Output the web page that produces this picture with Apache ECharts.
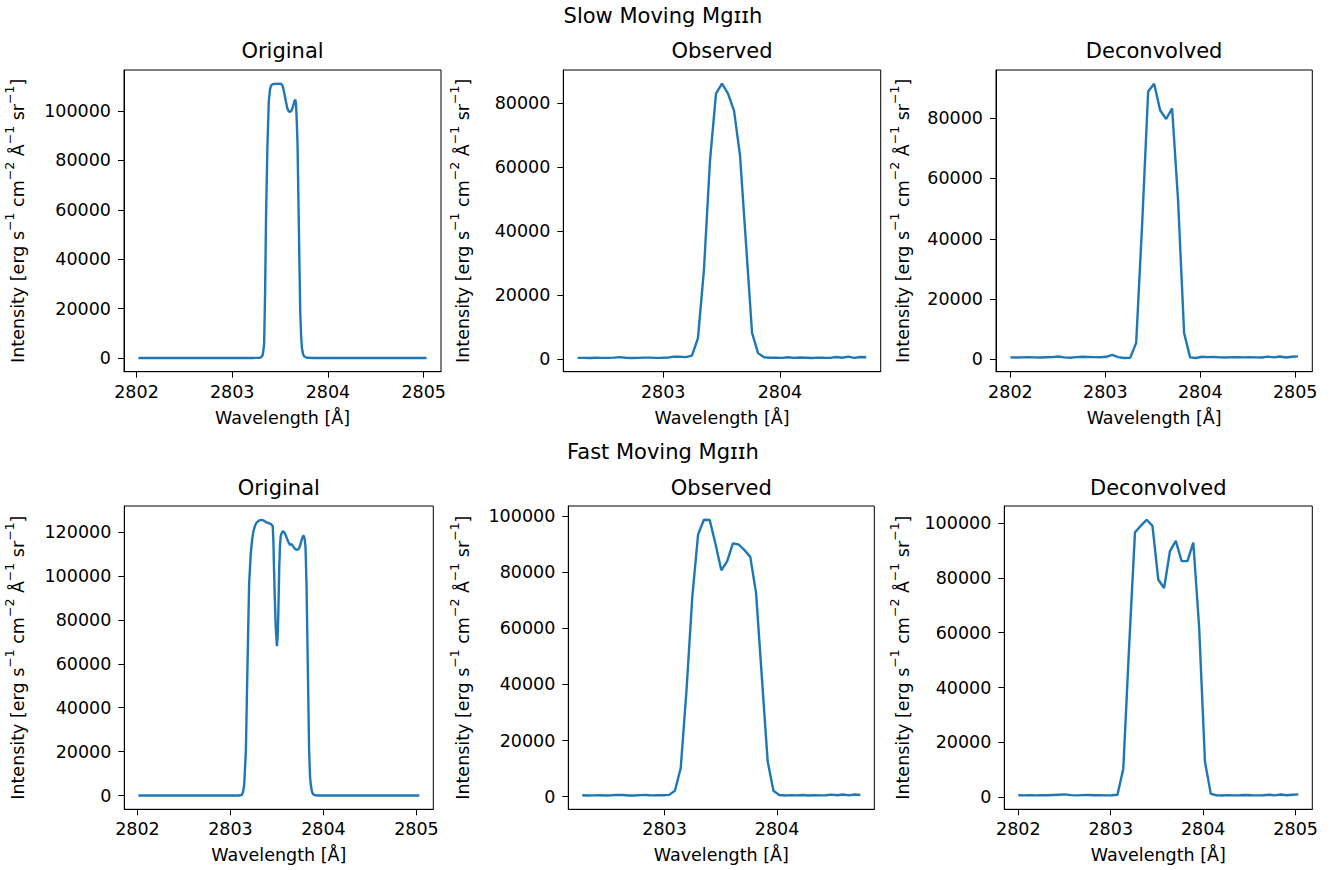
<!DOCTYPE html>
<html>
<head>
<meta charset="utf-8">
<script src="https://cdn.jsdelivr.net/npm/echarts@6/dist/echarts.min.js"></script>
<style>
html,body{margin:0;padding:0;background:#fff;}
#chart{width:1338px;height:870px;}
</style>
</head>
<body>
<div id="chart"></div>
<script>
// ---------------- DATA ----------------
const suptitles = ["Slow Moving Mg\u026a\u026ah", "Fast Moving Mg\u026a\u026ah"];
const panelTitles = ["Original", "Observed", "Deconvolved"];
const xLabel = "Wavelength [\u00c5]";
const yLabel = "{n|Intensity [erg s}{s|\u22121}{n| cm}{s|\u22122}{n| \u00c5}{s|\u22121}{n| sr}{s|\u22121}{n|]}";

// x tick labels
const xTicksFull = [2802, 2803, 2804, 2805];
const xTicksObs = [2803, 2804];
// y tick labels
const yTicks100k = [0, 20000, 40000, 60000, 80000, 100000];
const yTicks80k = [0, 20000, 40000, 60000, 80000];
const yTicks120k = [0, 20000, 40000, 60000, 80000, 100000, 120000];

// Original (fine) profiles: wavelength / intensity
const origSlowWl = [2802.02, 2803.20, 2803.29, 2803.31, 2803.319, 2803.333, 2803.343, 2803.354, 2803.368, 2803.382, 2803.395, 2803.41, 2803.43, 2803.50, 2803.518, 2803.53, 2803.545, 2803.56, 2803.575, 2803.59, 2803.605, 2803.62, 2803.633, 2803.648, 2803.658, 2803.666, 2803.674, 2803.682, 2803.696, 2803.71, 2803.72, 2803.728, 2803.74, 2803.752, 2803.78, 2803.85, 2805.03];
const origSlowI = [0, 0, 100, 600, 1350, 5400, 25700, 59500, 86500, 104000, 109000, 110600, 111000, 111100, 110800, 109800, 107000, 104000, 101200, 99900, 99700, 100300, 101600, 103800, 104700, 103000, 96000, 86500, 52700, 18900, 8500, 4050, 1500, 600, 100, 0, 0];

const origFastWl = [2802.01, 2803.08, 2803.11, 2803.123, 2803.135, 2803.148, 2803.166, 2803.183, 2803.201, 2803.219, 2803.233, 2803.247, 2803.265, 2803.283, 2803.31, 2803.337, 2803.36, 2803.39, 2803.433, 2803.445, 2803.455, 2803.462, 2803.468, 2803.477, 2803.487, 2803.5, 2803.507, 2803.514, 2803.525, 2803.532, 2803.54, 2803.555, 2803.568, 2803.583, 2803.597, 2803.61, 2803.621, 2803.64, 2803.658, 2803.675, 2803.697, 2803.718, 2803.735, 2803.746, 2803.76, 2803.771, 2803.781, 2803.789, 2803.797, 2803.807, 2803.818, 2803.832, 2803.846, 2803.856, 2803.864, 2803.876, 2803.889, 2803.91, 2803.95, 2805.03];
const origFastI = [0, 0, 100, 300, 1500, 4900, 20200, 58400, 96600, 110400, 116500, 120300, 123000, 124400, 125300, 125600, 125200, 124400, 123700, 123300, 122600, 116000, 104200, 90000, 76700, 68000, 72000, 81300, 104200, 113000, 118000, 120000, 120300, 119600, 118300, 116800, 115700, 114200, 114500, 113400, 112200, 111900, 112400, 113400, 115600, 117200, 118200, 118300, 117000, 113400, 96600, 58400, 20200, 8500, 4900, 1800, 600, 100, 0, 0];

// Observed (instrument) wavelength grid
const obsWlStart = 2802.268, obsWlStep = 0.0515, obsN = 49;
const obsSlowI = [400, 420, 380, 450, 400, 430, 500, 650, 450, 380, 430, 500, 480, 430, 450, 500, 800, 750, 650, 1100, 6600, 28000, 62000, 83000, 86100, 83000, 77700, 63600, 36000, 8200, 1900, 600, 450, 500, 420, 600, 400, 520, 450, 380, 500, 450, 420, 700, 450, 800, 400, 700, 600];
const obsFastI = [500, 450, 480, 500, 450, 520, 650, 600, 450, 420, 550, 600, 480, 500, 520, 650, 2100, 10200, 38000, 71300, 93400, 98600, 98500, 90000, 80600, 83800, 90200, 89800, 87800, 85400, 72500, 42500, 12600, 2100, 600, 450, 550, 480, 600, 450, 500, 480, 520, 750, 500, 800, 450, 800, 600];

// Deconvolved wavelength grid
const decWlStart = 2802.0, decWlStep = 0.0631, decN = 49;
const decSlowI = [700, 650, 700, 750, 700, 650, 750, 800, 1000, 700, 600, 800, 900, 850, 800, 750, 900, 1500, 800, 500, 550, 5500, 45000, 88800, 91400, 82600, 79700, 83200, 52500, 8800, 700, 500, 900, 800, 850, 700, 650, 800, 750, 700, 800, 700, 650, 950, 700, 1000, 650, 900, 1050];
const decFastI = [700, 650, 700, 650, 750, 700, 800, 900, 1000, 750, 650, 750, 800, 700, 750, 650, 700, 900, 10400, 55000, 96600, 99000, 101200, 99000, 79300, 76300, 89800, 93500, 86100, 86100, 92900, 62000, 12900, 1200, 700, 600, 750, 650, 700, 800, 700, 650, 700, 900, 650, 950, 700, 900, 1000];

// ---------------- BUILD ----------------
function grid(start, step, n) { const a = []; for (let i = 0; i < n; i++) a.push(+(start + step * i).toFixed(4)); return a; }
const obsWl = grid(obsWlStart, obsWlStep, obsN);
const decWl = grid(decWlStart, decWlStep, decN);
function pairs(xs, ys) { return xs.map((x, i) => [x, ys[i]]); }
function padRange(arr) { const mn = Math.min(...arr), mx = Math.max(...arr), d = mx - mn; return [mn - 0.05 * d, mx + 0.05 * d]; }

const FONT = "'DejaVu Sans', sans-serif";
const panels = [
  { wl: origSlowWl, I: origSlowI, xt: xTicksFull, yt: yTicks100k, g: { left: 124, top: 70, width: 317, height: 301.7 }, ng: 97 },
  { wl: obsWl, I: obsSlowI, xt: xTicksObs, yt: yTicks80k, g: { left: 563.3, top: 70, width: 317.4, height: 301.7 }, ng: 91 },
  { wl: decWl, I: decSlowI, xt: xTicksFull, yt: yTicks80k, g: { left: 996, top: 70, width: 316.3, height: 301.7 }, ng: 84 },
  { wl: origFastWl, I: origFastI, xt: xTicksFull, yt: yTicks120k, g: { left: 124.3, top: 506, width: 309, height: 303.3 }, ng: 97 },
  { wl: obsWl, I: obsFastI, xt: xTicksObs, yt: yTicks100k, g: { left: 568.3, top: 506, width: 306, height: 303.3 }, ng: 96 },
  { wl: decWl, I: decFastI, xt: xTicksFull, yt: yTicks100k, g: { left: 1004.3, top: 506, width: 308, height: 303.3 }, ng: 92 }
];

const grids = [], xAxes = [], yAxes = [], series = [], graphics = [];
panels.forEach((p, k) => {
  grids.push(Object.assign({ show: true, borderColor: '#000', borderWidth: 1, backgroundColor: 'transparent' }, p.g));
  const xr = padRange(p.wl), yr = padRange(p.I);
  const common = {
    gridIndex: k, type: 'value', scale: true,
    axisLine: { show: true, onZero: false, lineStyle: { color: '#000', width: 1 } },
    splitLine: { show: false },
    nameLocation: 'middle'
  };
  xAxes.push(Object.assign({}, common, {
    min: xr[0], max: xr[1], name: xLabel, nameGap: 37,
    nameTextStyle: { fontFamily: FONT, fontSize: 17.5, color: '#000' },
    axisTick: { show: true, length: 6, lineStyle: { color: '#000', width: 1 }, customValues: p.xt },
    axisLabel: { show: true, margin: 11, fontFamily: FONT, fontSize: 17.5, color: '#000', customValues: p.xt, formatter: v => String(Math.round(v)) }
  }));
  yAxes.push(Object.assign({}, common, {
    min: yr[0], max: yr[1], name: yLabel, nameGap: p.ng, nameRotate: 90,
    nameTextStyle: {
      fontFamily: FONT, fontSize: 17.5, color: '#000',
      rich: {
        n: { fontFamily: FONT, fontSize: 17.5, color: '#000', lineHeight: 24, verticalAlign: 'bottom' },
        s: { fontFamily: FONT, fontSize: 12.5, color: '#000', lineHeight: 14, verticalAlign: 'top' }
      }
    },
    axisTick: { show: true, length: 6, lineStyle: { color: '#000', width: 1 }, customValues: p.yt },
    axisLabel: { show: true, margin: 13, fontFamily: FONT, fontSize: 17.5, color: '#000', customValues: p.yt, formatter: v => String(Math.round(v)) }
  }));
  series.push({
    type: 'line', xAxisIndex: k, yAxisIndex: k, data: pairs(p.wl, p.I),
    showSymbol: false, symbol: 'none', smooth: false,
    lineStyle: { color: '#1f77b4', width: 2.4 }, itemStyle: { color: '#1f77b4' }, silent: true
  });
  graphics.push({
    type: 'text', x: p.g.left + p.g.width / 2, y: k < 3 ? 51 : 488,
    style: { text: panelTitles[k % 3], font: "21px 'DejaVu Sans', sans-serif", fill: '#000', textAlign: 'center', textVerticalAlign: 'middle' }
  });
});
graphics.push({ type: 'text', x: 663, y: 16, style: { text: suptitles[0], font: "21px 'DejaVu Sans', sans-serif", fill: '#000', textAlign: 'center', textVerticalAlign: 'middle' } });
graphics.push({ type: 'text', x: 663, y: 452, style: { text: suptitles[1], font: "21px 'DejaVu Sans', sans-serif", fill: '#000', textAlign: 'center', textVerticalAlign: 'middle' } });

const chart = echarts.init(document.getElementById('chart'), null, { renderer: 'svg' });
chart.setOption({
  animation: false,
  backgroundColor: '#fff',
  grid: grids, xAxis: xAxes, yAxis: yAxes, series: series, graphic: graphics
});
</script>
</body>
</html>
